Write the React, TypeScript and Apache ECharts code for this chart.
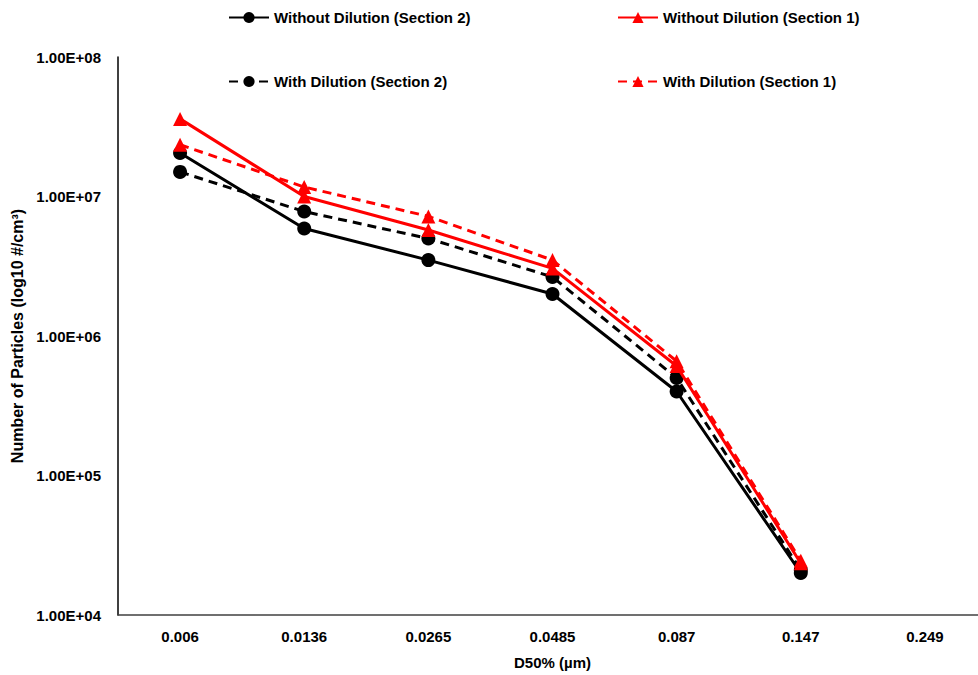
import React, { useEffect, useRef } from "react";
import * as echarts from "echarts";

const categories = ["0.006", "0.0136", "0.0265", "0.0485", "0.087", "0.147", "0.249"];
const withoutS2 = [2.05e7, 5.9e6, 3.5e6, 2.0e6, 4.0e5, 2.0e4, null];
const withS2 = [1.5e7, 7.8e6, 5.0e6, 2.65e6, 5.0e5, 2.1e4, null];
const withoutS1 = [3.6e7, 1.0e7, 5.75e6, 3.05e6, 6.1e5, 2.35e4, null];
const withS1 = [2.35e7, 1.17e7, 7.2e6, 3.5e6, 6.6e5, 2.45e4, null];

const NAME_WO2 = "Without Dilution (Section 2)";
const NAME_WO1 = "Without Dilution (Section 1)";
const NAME_W2 = "With Dilution (Section 2)";
const NAME_W1 = "With Dilution (Section 1)";

const FONT = "'Liberation Sans', Arial, sans-serif";

function fmtExp(v: number): string {
  const e = Math.round(Math.log10(v));
  const m = v / Math.pow(10, e);
  return m.toFixed(2) + "E+" + String(e).padStart(2, "0");
}

export default function App() {
  const ref = useRef<HTMLDivElement>(null);
  useEffect(() => {
    document.body.style.margin = "0";
    if (!ref.current) return;
    const chart = echarts.init(ref.current, null, { renderer: "svg" });
    const legendText = { fontFamily: FONT, fontSize: 15, fontWeight: "bold" as const, color: "#000" };
    const legendBase = {
      itemWidth: 40,
      itemHeight: 14,
      textStyle: legendText,
      padding: 0,
    };
    chart.setOption({
      animation: false,
      backgroundColor: "#fff",
      legend: [
        { ...legendBase, data: [NAME_WO2], left: 228, top: 10 },
        { ...legendBase, data: [NAME_WO1], left: 617, top: 10 },
        { ...legendBase, data: [NAME_W2], left: 228, top: 74 },
        { ...legendBase, data: [NAME_W1], left: 617, top: 74 },
      ],
      grid: { left: 118, right: -9, top: 57, bottom: 60, containLabel: false, outerBoundsMode: "none" },
      xAxis: {
        type: "category",
        data: categories,
        boundaryGap: true,
        name: "D50% (µm)",
        nameLocation: "middle",
        nameGap: 40,
        nameTextStyle: { fontFamily: FONT, fontSize: 15, fontWeight: "bold", color: "#000" },
        axisLine: { lineStyle: { color: "#404040", width: 1.5 } },
        axisTick: { show: false },
        axisLabel: { fontFamily: FONT, fontSize: 15, fontWeight: "bold", color: "#000", margin: 14 },
        splitLine: { show: false },
      },
      yAxis: {
        type: "log",
        logBase: 10,
        min: 1e4,
        max: 1e8,
        name: "Number of Particles (log10 #/cm³)",
        nameLocation: "middle",
        nameGap: 93,
        nameRotate: 90,
        nameTextStyle: { fontFamily: FONT, fontSize: 16, fontWeight: "bold", color: "#000" },
        axisLine: { show: true, lineStyle: { color: "#000", width: 1.5 } },
        axisTick: { show: false },
        axisLabel: {
          fontFamily: FONT,
          fontSize: 15,
          fontWeight: "bold",
          color: "#000",
          margin: 17,
          formatter: (v: number) => fmtExp(v),
        },
        splitLine: { show: false },
      },
      series: [
        {
          name: NAME_WO2,
          type: "line",
          data: withoutS2,
          symbol: "circle",
          symbolSize: 14,
          itemStyle: { color: "#000" },
          lineStyle: { color: "#000", width: 3 },
          z: 2,
        },
        {
          name: NAME_W2,
          type: "line",
          data: withS2,
          symbol: "circle",
          symbolSize: 14,
          itemStyle: { color: "#000" },
          lineStyle: { color: "#000", width: 3, type: [9, 6] },
          z: 3,
        },
        {
          name: NAME_WO1,
          type: "line",
          data: withoutS1,
          symbol: "triangle",
          symbolSize: 14,
          itemStyle: { color: "#ff0000" },
          lineStyle: { color: "#ff0000", width: 3 },
          z: 4,
        },
        {
          name: NAME_W1,
          type: "line",
          data: withS1,
          symbol: "triangle",
          symbolSize: 14,
          itemStyle: { color: "#ff0000" },
          lineStyle: { color: "#ff0000", width: 3, type: [9, 6] },
          z: 5,
        },
      ],
    });
    return () => chart.dispose();
  }, []);
  return <div ref={ref} style={{ width: 978, height: 675 }} />;
}
